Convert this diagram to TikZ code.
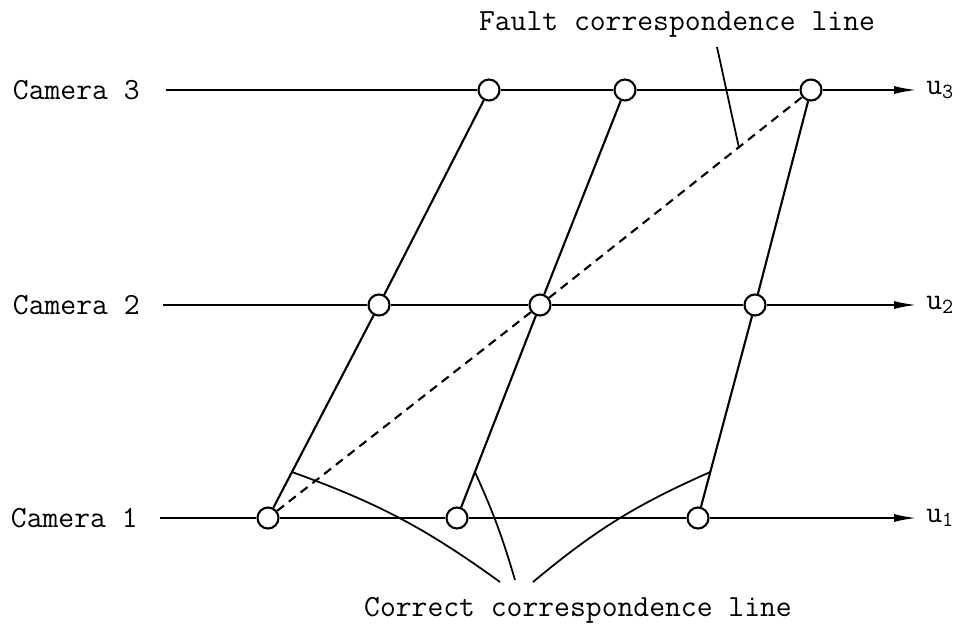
\documentclass[tikz,border=0pt]{standalone}
\usepackage{tikz}
\usetikzlibrary{arrows.meta, calc}

\begin{document}
\begin{tikzpicture}[
  cam/.style={font=\fontsize{17.5}{20}\ttfamily, inner sep=0pt, anchor=east},
  ulabel/.style={font=\fontsize{17.5}{20}\ttfamily, inner sep=0pt, anchor=west},
  caption/.style={font=\fontsize{17.5}{20}\ttfamily, inner sep=0pt},
  pt/.style={circle, draw, line width=1.2pt, fill=white, minimum size=0.42cm,
             inner sep=0pt},
  axis/.style={line width=1.2pt, -{Latex[length=13pt, width=4.5pt]}},
  match/.style={line width=1.2pt},
  fault/.style={line width=1.2pt, dashed, dash pattern=on 5pt off 3.5pt},
  leader/.style={line width=1pt}
]
\useasboundingbox (0,0) rectangle (19.3,-12.58);

% camera labels
\node[cam] (cam3) at (2.80,-1.80) {Camera 3};
\node[cam] (cam2) at (2.80,-6.10) {Camera 2};
\node[cam] (cam1) at (2.76,-10.36) {Camera 1};

% image points
\node[pt] (c31) at (9.78,-1.80) {};
\node[pt] (c32) at (12.50,-1.80) {};
\node[pt] (c33) at (16.22,-1.80) {};
\node[pt] (c21) at (7.58,-6.10) {};
\node[pt] (c22) at (10.80,-6.10) {};
\node[pt] (c23) at (15.10,-6.10) {};
\node[pt] (c11) at (5.36,-10.36) {};
\node[pt] (c12) at (9.14,-10.36) {};
\node[pt] (c13) at (13.96,-10.36) {};

% image axes
\coordinate (s3) at (3.32,-1.80);
\coordinate (s2) at (3.26,-6.10);
\coordinate (s1) at (3.20,-10.36);
\coordinate (e3) at (18.34,-1.80);
\coordinate (e2) at (18.34,-6.10);
\coordinate (e1) at (18.34,-10.36);
\draw[axis] (s3) -- (c31) -- (c32) -- (c33) -- (e3);
\draw[axis] (s2) -- (c21) -- (c22) -- (c23) -- (e2);
\draw[axis] (s1) -- (c11) -- (c12) -- (c13) -- (e1);
\node[ulabel] (u3) at (18.52,-1.80) {u\textsubscript{3}};
\node[ulabel] (u2) at (18.52,-6.10) {u\textsubscript{2}};
\node[ulabel] (u1) at (18.52,-10.36) {u\textsubscript{1}};

% correspondence lines
\draw[match] (c11) -- (c21) -- (c31);
\draw[match] (c12) -- (c22) -- (c32);
\draw[match] (c13) -- (c23) -- (c33);
\draw[fault] (c11) -- (c22) -- (c33);

% labels
\node[caption] (flabel) at (13.54,-0.50) {Fault correspondence line};
\node[caption] (clabel) at (11.56,-12.20) {Correct correspondence line};

\coordinate (ftop) at (14.34,-0.94);
\draw[leader] (ftop) -- ($(c11)!0.867!(c33)$);

\coordinate (ca) at (10.00,-11.64);
\coordinate (cb) at (10.30,-11.60);
\coordinate (cc) at (10.66,-11.64);
\draw[leader] ($(c11)!0.216!(c21)$) to[bend left=8] (ca);
\draw[leader] ($(c12)!0.216!(c22)$) to[bend left=4] (cb);
\draw[leader] ($(c13)!0.216!(c23)$) to[bend right=8] (cc);

\end{tikzpicture}
\end{document}
